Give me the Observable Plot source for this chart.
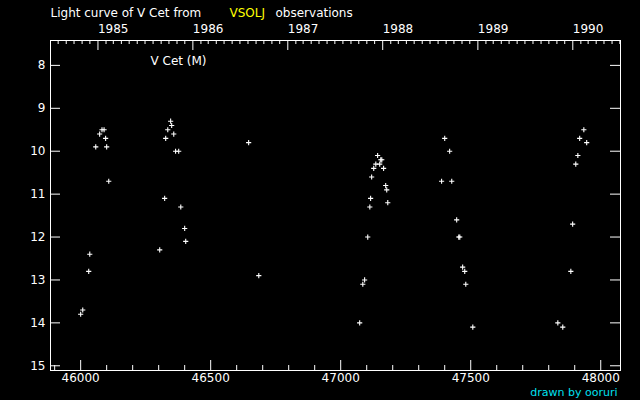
<!DOCTYPE html>
<html>
<head>
<meta charset="utf-8">
<script src="https://cdn.jsdelivr.net/npm/d3@7"></script>
<script src="https://cdn.jsdelivr.net/npm/@observablehq/plot@0.6"></script>
<style>
  html, body { margin: 0; padding: 0; background: #000; }
  #chart { width: 640px; height: 400px; }
</style>
</head>
<body>
<div id="chart"></div>
<script>
// Julian Date - 2400000
const jd = [
  46000, 46008, 46031, 46035, 46058, 46073, 46082, 46090, 46096, 46100, 46108,
  46304, 46323, 46327, 46335, 46346, 46350, 46358, 46365, 46377, 46385, 46400, 46404,
  46646, 46685,
  47073, 47085, 47092, 47104, 47112, 47115, 47119, 47127, 47135, 47142, 47150, 47154, 47158, 47165, 47173, 47177, 47181,
  47388, 47400, 47419, 47427, 47446, 47454, 47458, 47469, 47477, 47481, 47508,
  47835, 47854, 47885, 47892, 47904, 47912, 47919, 47935, 47946
];
// visual magnitude
const mag = [
  13.8, 13.7, 12.8, 12.4, 9.9, 9.6, 9.5, 9.5, 9.7, 9.9, 10.7,
  12.3, 11.1, 9.7, 9.5, 9.3, 9.4, 9.6, 10.0, 10.0, 11.3, 11.8, 12.1,
  9.8, 12.9,
  14.0, 13.1, 13.0, 12.0, 11.3, 11.1, 10.6, 10.4, 10.3, 10.1, 10.3, 10.2, 10.2, 10.4, 10.8, 10.9, 11.2,
  10.7, 9.7, 10.0, 10.7, 11.6, 12.0, 12.0, 12.7, 12.8, 13.1, 14.1,
  14.0, 14.1, 12.8, 11.7, 10.3, 10.1, 9.7, 9.5, 9.8
];
const xTickLabels = [46000, 46500, 47000, 47500, 48000];
const yTickLabels = [8, 9, 10, 11, 12, 13, 14, 15];
const years = [1985, 1986, 1987, 1988, 1989, 1990];

const title = "Light curve of V Cet from";
const titleSource = "VSOLJ";
const titleEnd = "observations";
const starLabel = "V Cet (M)";
const credit = "drawn by ooruri";

const data = jd.map((d, i) => ({jd: d, mag: mag[i]}));

const xDomain = [45884, 48076];
const toJD = (date) => date.getTime() / 86400000 + 40587.5;
const yearJD = years.map(y => toJD(new Date(Date.UTC(y, 0, 1))));
const monthJD = d3.utcMonths(new Date(Date.UTC(1984, 6, 1)), new Date(Date.UTC(1990, 7, 1)))
  .map(toJD).filter(v => v > xDomain[0] + 1 && v < xDomain[1] - 2 && !yearJD.includes(v));
const minorX = d3.range(45900, 48001, 100).filter(v => !xTickLabels.includes(v));

const W = 640, H = 400, mL = 50, mR = 20, mT = 40, mB = 30;
const frameW = W - mL - mR, frameH = H - mT - mB;
const font = "DejaVu Sans";

const chart = Plot.plot({
  width: W, height: H,
  marginLeft: mL, marginRight: mR, marginTop: mT, marginBottom: mB,
  style: {background: "#000", color: "#fff", fontFamily: font, fontSize: "12px"},
  x: {domain: xDomain, axis: null},
  y: {domain: [15.11, 7.42], axis: null},
  marks: [
    Plot.frame({stroke: "#fff"}),
    // bottom ticks (inward)
    Plot.ruleX(xTickLabels, {x: d => d, stroke: "#fff", insetTop: frameH - 10}),
    Plot.ruleX(minorX, {x: d => d, stroke: "#fff", insetTop: frameH - 5}),
    // top ticks (years and months)
    Plot.ruleX(yearJD, {x: d => d, stroke: "#fff", insetBottom: frameH - 10}),
    Plot.ruleX(monthJD, {x: d => d, stroke: "#fff", insetBottom: frameH - 4}),
    // left & right ticks
    Plot.ruleY(yTickLabels, {y: d => d, stroke: "#fff", insetRight: frameW - 10}),
    Plot.ruleY(yTickLabels, {y: d => d, stroke: "#fff", insetLeft: frameW - 10}),
    Plot.axisX({ticks: xTickLabels, tickSize: 0, tickPadding: 2.5, tickFormat: d => String(d), label: null, fontSize: 12}),
    Plot.axisX({anchor: "top", ticks: yearJD, tickSize: 0, tickPadding: 8, textAnchor: "start",
      tickFormat: d => String(years[yearJD.indexOf(d)]), label: null, fontSize: 12}),
    Plot.axisY({ticks: yTickLabels, tickSize: 0, tickPadding: 5, tickFormat: d => String(d), label: null, fontSize: 12}),
    Plot.dot(data, {x: "jd", y: "mag", symbol: "plus", r: 1.8, stroke: "#fff", fill: "none", strokeWidth: 1.1}),
    Plot.text([title], {text: d => d, frameAnchor: "top-left", dx: 0, dy: -24, textAnchor: "start", lineAnchor: "bottom", fill: "#fff", fontSize: 12}),
    Plot.text([titleSource], {text: d => d, frameAnchor: "top-left", dx: 179, dy: -24, textAnchor: "start", lineAnchor: "bottom", fill: "#ffff00", fontSize: 12}),
    Plot.text([titleEnd], {text: d => d, frameAnchor: "top-left", dx: 225, dy: -24, textAnchor: "start", lineAnchor: "bottom", fill: "#fff", fontSize: 12}),
    Plot.text([starLabel], {text: d => d, frameAnchor: "top-left", dx: 100, dy: 24.5, textAnchor: "start", lineAnchor: "bottom", fill: "#fff", fontSize: 12}),
    Plot.text([credit], {text: d => d, frameAnchor: "bottom-right", dx: -3, dy: 25, textAnchor: "end", lineAnchor: "bottom", fill: "#00e0f0", fontSize: 11})
  ]
});
document.getElementById("chart").append(chart);
</script>
</body>
</html>
